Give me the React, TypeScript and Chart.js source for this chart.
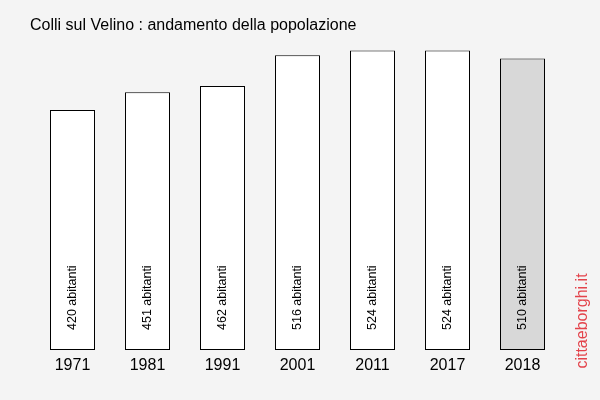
import React, { useEffect, useRef } from "react";
import { Chart, registerables } from "chart.js";

Chart.register(...registerables);

const years = ["1971", "1981", "1991", "2001", "2011", "2017", "2018"];
const population = [420, 451, 462, 516, 524, 524, 510];
const barColors = ["#ffffff", "#ffffff", "#ffffff", "#ffffff", "#ffffff", "#ffffff", "#d8d8d8"];
const titleText = "Colli sul Velino : andamento della popolazione";
const watermark = "cittaeborghi.it";
const unit = "abitanti";

const FONT = "'Liberation Sans', Arial, sans-serif";

export default function App() {
  const ref = useRef<HTMLCanvasElement>(null);

  useEffect(() => {
    if (!ref.current) return;
    const decor = {
      id: "decor",
      beforeDraw(chart: any) {
        const ctx = chart.ctx;
        ctx.save();
        ctx.fillStyle = "#f4f4f4";
        ctx.fillRect(0, 0, chart.width, chart.height);
        ctx.restore();
      },
      afterDatasetsDraw(chart: any) {
        const ctx = chart.ctx;
        const meta = chart.getDatasetMeta(0);
        const xScale = chart.scales.x;
        const base = chart.chartArea.bottom;
        ctx.save();
        // value labels
        ctx.fillStyle = "#000";
        ctx.font = `12.5px ${FONT}`;
        ctx.textAlign = "left";
        ctx.textBaseline = "middle";
        meta.data.forEach((bar: any, i: number) => {
          ctx.save();
          ctx.translate(bar.x, base - 20);
          ctx.rotate(-Math.PI / 2);
          ctx.fillText(`${population[i]} ${unit}`, 0, 0);
          ctx.restore();
        });
        // x labels
        ctx.font = `16px ${FONT}`;
        ctx.textAlign = "center";
        ctx.textBaseline = "alphabetic";
        years.forEach((y, i) => {
          ctx.fillText(y, xScale.getPixelForTick(i), base + 20);
        });
        // title
        ctx.font = `16px ${FONT}`;
        ctx.textAlign = "left";
        ctx.textBaseline = "alphabetic";
        ctx.fillText(titleText, 30, 30);
        // watermark
        ctx.save();
        ctx.fillStyle = "#e3434b";
        ctx.font = `16px ${FONT}`;
        ctx.translate(583, 321);
        ctx.rotate(-Math.PI / 2);
        ctx.textAlign = "center";
        ctx.textBaseline = "middle";
        ctx.fillText(watermark, 0, 0);
        ctx.restore();
        ctx.restore();
      },
    };

    const chart = new Chart(ref.current, {
      type: "bar",
      data: {
        labels: years,
        datasets: [
          {
            data: population,
            backgroundColor: barColors,
            borderColor: "#000000",
            borderWidth: 1,
            borderSkipped: false,
            categoryPercentage: 0.6,
            barPercentage: 1,
          },
        ],
      },
      options: {
        animation: false,
        responsive: false,
        maintainAspectRatio: false,
        layout: { padding: { left: 35, right: 40, top: 30, bottom: 50 } },
        plugins: {
          legend: { display: false },
          title: { display: false },
          tooltip: { enabled: false },
        },
        scales: {
          x: { display: false },
          y: { display: false, min: 0, max: 560 },
        },
      },
      plugins: [decor],
    });
    return () => chart.destroy();
  }, []);

  return (
    <div style={{ position: "absolute", left: 0, top: 0, width: 600, height: 400 }}>
      <canvas ref={ref} width={600} height={400} style={{ width: 600, height: 400, display: "block" }} />
    </div>
  );
}
